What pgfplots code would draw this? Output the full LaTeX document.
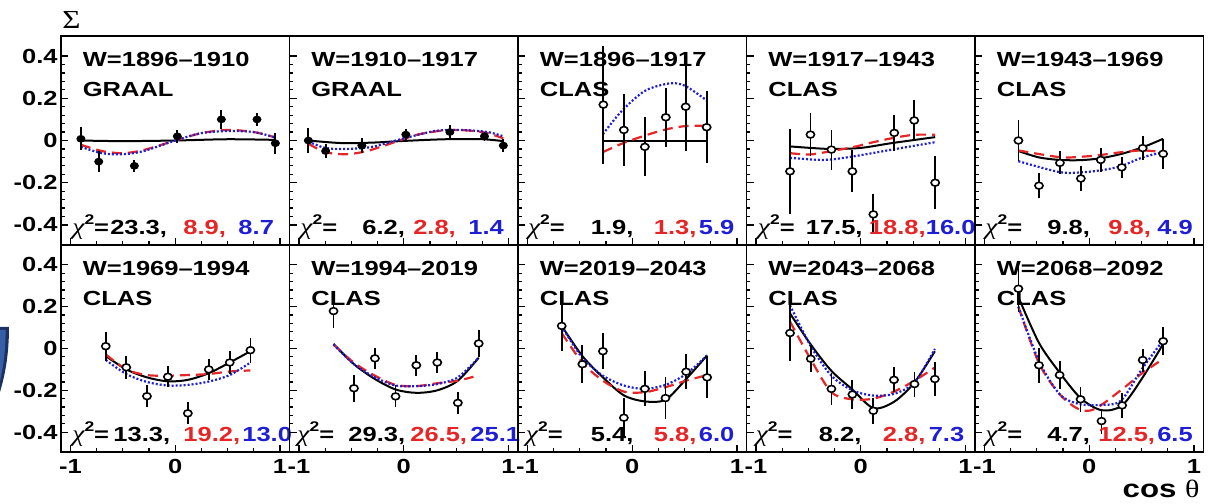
\documentclass[border=0pt]{standalone}
\usepackage{fontspec}
\usepackage{pgfplots}
\pgfplotsset{compat=1.18}
\newfontfamily\rf{Liberation Sans}[FakeStretch=1.25]
\newfontfamily\symf{Liberation Serif}[FakeStretch=1.2]
\definecolor{rred}{RGB}{230,38,38}
\definecolor{rblue}{RGB}{30,30,215}
\newcommand{\tf}{\fontsize{10.2}{12}\rf\bfseries}
\newcommand{\chisq}{{\fontsize{11.5}{12}\symf\itshape χ}\raisebox{0.5em}{\fontsize{7}{8}\rf\bfseries 2}{\tf =}}
\newcommand{\chiline}[7]{%
 \node[anchor=base west,inner sep=0] at (rel axis cs:#1,0.05) {\chisq};
 \node[anchor=base west,inner sep=0] at (rel axis cs:#2,0.05) {\tf #3};
 \node[anchor=base west,inner sep=0,text=rred] at (rel axis cs:#4,0.05) {\tf #5};
 \node[anchor=base west,inner sep=0,text=rblue] at (rel axis cs:#6,0.05) {\tf #7};}
\newcommand{\ttl}[2]{%
 \node[anchor=base west,inner sep=0] at (rel axis cs:0.094,0.855) {\tf #1};
 \node[anchor=base west,inner sep=0] at (rel axis cs:0.094,0.71) {\tf #2};}
\pgfplotsset{
 panel/.style={scale only axis, width=114.25pt, anchor=south west,
  xmin=-1.09, xmax=1.09, ymin=-0.495, ymax=0.495,
  axis line style={line width=0.9pt},
  every tick/.style={black, line width=0.6pt},
  tick align=inside, tick pos=left,
  xtick={-1,0,1}, ytick={-0.4,-0.2,0,0.2,0.4},
  minor x tick num=3, minor y tick num=4,
  major tick length=3.5pt, minor tick length=1.8pt,
  xticklabels={}, yticklabels={},
  clip=false,
  ticklabel style={font=\tf},
  yticklabel style={inner sep=1.5pt},
 },
 toprow/.style={height=104.5pt},
 botrow/.style={height=103.5pt, xticklabels={-1,0,1}},
 firstcol/.style={yticklabels={-0.4,-0.2,0,0.2,0.4}},
 bfit/.style={black, line width=1pt, smooth},
 rfit/.style={rred, line width=1.1pt, dash pattern=on 5pt off 3pt, smooth},
 ufit/.style={rblue, line width=1.1pt, dash pattern=on 1pt off 1pt, smooth},
 dfill/.style={black, only marks, mark=*, mark size=1.7pt, mark options={xscale=1.2, fill=black},
   error bars/.cd, y dir=both, y explicit, error mark=none, error bar style={line width=0.9pt}},
 dopen/.style={black, only marks, mark=*, mark size=1.7pt, mark options={xscale=1.2, fill=white, line width=0.8pt},
   error bars/.cd, y dir=both, y explicit, error mark=none, error bar style={line width=0.9pt}},
}
\begin{document}
\begin{tikzpicture}
% ---------- top row ----------
\begin{axis}[panel, toprow, firstcol, at={(30.5pt,129pt)}]
\addplot[bfit] coordinates {(-0.9,0.0) (-0.5,-0.003) (0,0.0) (0.5,0.006) (0.95,0.003)};
\addplot[rfit] coordinates {(-0.9,-0.02) (-0.7,-0.05) (-0.5,-0.06) (-0.3,-0.045) (0,0.0) (0.25,0.035) (0.5,0.05) (0.75,0.04) (0.95,0.015)};
\addplot[ufit] coordinates {(-0.9,-0.03) (-0.7,-0.06) (-0.5,-0.065) (-0.3,-0.05) (0,0.0) (0.25,0.035) (0.5,0.045) (0.75,0.04) (0.95,0.015)};
\addplot[dfill] coordinates {(-0.90,0.008) +- (0,0.055) (-0.73,-0.10) +- (0,0.05) (-0.39,-0.12) +- (0,0.03) (0.02,0.02) +- (0,0.03) (0.44,0.10) +- (0,0.045) (0.78,0.10) +- (0,0.03) (0.955,-0.013) +- (0,0.05)};
\ttl{W=1896–1910}{GRAAL}
\chiline{0.048}{0.214}{23.3,}{0.534}{8.9,}{0.775}{8.7}
\end{axis}
\begin{axis}[panel, toprow, at={(144.75pt,129pt)}]
\addplot[bfit] coordinates {(-0.91,0.0) (-0.6,-0.012) (-0.3,-0.01) (0,-0.002) (0.4,0.006) (0.75,0.006) (0.95,-0.003)};
\addplot[rfit] coordinates {(-0.91,-0.015) (-0.75,-0.055) (-0.55,-0.065) (-0.35,-0.05) (-0.1,-0.01) (0.15,0.03) (0.45,0.05) (0.75,0.04) (0.95,0.01)};
\addplot[ufit] coordinates {(-0.91,-0.005) (-0.75,-0.035) (-0.55,-0.04) (-0.3,-0.03) (0,0.01) (0.3,0.045) (0.55,0.05) (0.8,0.04) (0.95,0.02)};
\addplot[dfill] coordinates {(-0.91,0.0) +- (0,0.06) (-0.745,-0.05) +- (0,0.035) (-0.40,-0.024) +- (0,0.035) (0.02,0.028) +- (0,0.025) (0.44,0.04) +- (0,0.035) (0.77,0.02) +- (0,0.02) (0.95,-0.024) +- (0,0.03)};
\ttl{W=1910–1917}{GRAAL}
\chiline{0.046}{0.317}{6.2,}{0.540}{2.8,}{0.781}{1.4}
\end{axis}
\begin{axis}[panel, toprow, at={(259pt,129pt)}]
\addplot[black, line width=1pt] coordinates {(-0.28,0) (0.71,0)};
\addplot[rfit] coordinates {(-0.28,-0.055) (-0.1,-0.015) (0.1,0.02) (0.3,0.05) (0.5,0.068) (0.71,0.07)};
\addplot[ufit] coordinates {(-0.28,0.03) (-0.1,0.14) (0.12,0.235) (0.35,0.27) (0.5,0.26) (0.71,0.19)};
\addplot[dopen] coordinates {(-0.276,0.17) +- (0,0.28) (-0.08,0.05) +- (0,0.17) (0.12,-0.03) +- (0,0.14) (0.32,0.11) +- (0,0.14) (0.51,0.16) +- (0,0.21) (0.71,0.063) +- (0,0.17)};
\ttl{W=1896–1917}{CLAS}
\chiline{0.042}{0.317}{1.9,}{0.593}{1.3,}{0.790}{5.9}
\end{axis}
\begin{axis}[panel, toprow, at={(373.25pt,129pt)}]
\addplot[bfit] coordinates {(-0.675,-0.028) (-0.3,-0.04) (0,-0.035) (0.3,-0.012) (0.71,0.016)};
\addplot[rfit] coordinates {(-0.675,-0.06) (-0.48,-0.066) (-0.28,-0.05) (-0.08,-0.032) (0.12,-0.008) (0.32,0.013) (0.51,0.027) (0.71,0.027)};
\addplot[ufit] coordinates {(-0.675,-0.082) (-0.35,-0.092) (-0.08,-0.076) (0.3,-0.043) (0.71,-0.008)};
\addplot[dopen] coordinates {(-0.675,-0.146) +- (0,0.2) (-0.48,0.028) +- (0,0.1) (-0.28,-0.043) +- (0,0.095) (-0.08,-0.146) +- (0,0.1) (0.12,-0.35) +- (0,0.095) (0.32,0.036) +- (0,0.085) (0.51,0.095) +- (0,0.095) (0.71,-0.2) +- (0,0.125)};
\ttl{W=1917–1943}{CLAS}
\chiline{0.048}{0.258}{17.5,}{0.534}{18.8,}{0.783}{16.0}
\end{axis}
\begin{axis}[panel, toprow, at={(487.5pt,129pt)}]
\addplot[bfit] coordinates {(-0.676,-0.05) (-0.48,-0.08) (-0.28,-0.092) (-0.08,-0.093) (0.11,-0.084) (0.31,-0.063) (0.51,-0.032) (0.705,0.008)};
\addplot[rfit] coordinates {(-0.676,-0.047) (-0.28,-0.079) (-0.05,-0.076) (0.15,-0.066) (0.31,-0.055) (0.51,-0.047) (0.705,-0.055)};
\addplot[ufit] coordinates {(-0.676,-0.098) (-0.28,-0.15) (-0.05,-0.15) (0.15,-0.138) (0.31,-0.12) (0.51,-0.08) (0.705,-0.055)};
\addplot[dopen] coordinates {(-0.676,0.0) +- (0,0.095) (-0.48,-0.214) +- (0,0.06) (-0.28,-0.106) +- (0,0.055) (-0.08,-0.18) +- (0,0.06) (0.11,-0.092) +- (0,0.055) (0.31,-0.127) +- (0,0.05) (0.51,-0.036) +- (0,0.057) (0.705,-0.063) +- (0,0.07)};
\ttl{W=1943–1969}{CLAS}
\chiline{0.044}{0.315}{9.8,}{0.582}{9.8,}{0.796}{4.9}
\end{axis}
% ---------- bottom row ----------
\begin{axis}[panel, botrow, firstcol, at={(30.5pt,25.5pt)}]
\addplot[bfit] coordinates {(-0.663,-0.036) (-0.467,-0.1) (-0.27,-0.138) (-0.07,-0.157) (0.12,-0.15) (0.32,-0.118) (0.52,-0.067) (0.717,-0.013)};
\addplot[rfit] coordinates {(-0.663,-0.028) (-0.467,-0.1) (-0.27,-0.127) (-0.07,-0.13) (0.12,-0.127) (0.32,-0.122) (0.52,-0.11) (0.717,-0.105)};
\addplot[ufit] coordinates {(-0.663,-0.055) (-0.467,-0.122) (-0.27,-0.16) (-0.07,-0.177) (0.12,-0.174) (0.32,-0.158) (0.52,-0.127) (0.717,-0.067)};
\addplot[dopen] coordinates {(-0.663,0.011) +- (0,0.07) (-0.467,-0.09) +- (0,0.055) (-0.27,-0.228) +- (0,0.053) (-0.07,-0.135) +- (0,0.05) (0.12,-0.31) +- (0,0.053) (0.32,-0.10) +- (0,0.05) (0.52,-0.067) +- (0,0.053) (0.717,-0.008) +- (0,0.06)};
\ttl{W=1969–1994}{CLAS}
\chiline{0.048}{0.228}{13.3,}{0.534}{19.2,}{0.792}{13.0}
\end{axis}
\begin{axis}[panel, botrow, at={(144.75pt,25.5pt)}]
\addplot[bfit] coordinates {(-0.67,0.022) (-0.475,-0.075) (-0.275,-0.146) (-0.078,-0.196) (0.12,-0.212) (0.32,-0.2) (0.516,-0.154) (0.715,-0.044)};
\addplot[rfit] coordinates {(-0.67,0.019) (-0.475,-0.068) (-0.275,-0.13) (-0.078,-0.174) (0.12,-0.18) (0.32,-0.166) (0.516,-0.154) (0.665,-0.135)};
\addplot[ufit] coordinates {(-0.67,0.019) (-0.475,-0.075) (-0.275,-0.138) (-0.078,-0.177) (0.12,-0.18) (0.32,-0.17) (0.516,-0.138) (0.715,-0.044)};
\addplot[dopen] coordinates {(-0.67,0.179) +- (0,0.08) (-0.475,-0.19) +- (0,0.065) (-0.275,-0.047) +- (0,0.05) (-0.078,-0.229) +- (0,0.053) (0.12,-0.08) +- (0,0.05) (0.32,-0.067) +- (0,0.05) (0.516,-0.26) +- (0,0.053) (0.715,0.024) +- (0,0.065)};
\ttl{W=1994–2019}{CLAS}
\chiline{0.033}{0.256}{29.3,}{0.527}{26.5,}{0.790}{25.1}
\end{axis}
\begin{axis}[panel, botrow, at={(259pt,25.5pt)}]
\addplot[bfit] coordinates {(-0.673,0.108) (-0.476,-0.036) (-0.28,-0.138) (-0.08,-0.224) (0.12,-0.253) (0.317,-0.245) (0.514,-0.146) (0.714,-0.033)};
\addplot[rfit] coordinates {(-0.673,0.074) (-0.476,-0.067) (-0.28,-0.154) (-0.08,-0.206) (0.12,-0.209) (0.317,-0.185) (0.514,-0.154) (0.714,-0.127)};
\addplot[ufit] coordinates {(-0.673,0.105) (-0.476,-0.044) (-0.28,-0.13) (-0.08,-0.177) (0.12,-0.193) (0.317,-0.174) (0.514,-0.122) (0.714,-0.033)};
\addplot[dopen] coordinates {(-0.673,0.108) +- (0,0.12) (-0.476,-0.075) +- (0,0.09) (-0.28,-0.013) +- (0,0.085) (-0.08,-0.331) +- (0,0.095) (0.12,-0.193) +- (0,0.084) (0.317,-0.237) +- (0,0.1) (0.514,-0.111) +- (0,0.083) (0.714,-0.138) +- (0,0.1)};
\ttl{W=2019–2043}{CLAS}
\chiline{0.033}{0.317}{5.4,}{0.593}{5.8,}{0.790}{6.0}
\end{axis}
\begin{axis}[panel, botrow, at={(373.25pt,25.5pt)}]
\addplot[bfit] coordinates {(-0.675,0.168) (-0.477,0.019) (-0.28,-0.107) (-0.08,-0.196) (0.12,-0.285) (0.317,-0.255) (0.513,-0.162) (0.707,-0.013)};
\addplot[rfit] coordinates {(-0.675,0.129) (-0.477,-0.052) (-0.28,-0.209) (-0.08,-0.243) (0.12,-0.24) (0.317,-0.206) (0.513,-0.154) (0.707,-0.091)};
\addplot[ufit] coordinates {(-0.675,0.207) (-0.477,0.011) (-0.28,-0.13) (-0.08,-0.2) (0.12,-0.225) (0.317,-0.217) (0.513,-0.162) (0.707,-0.002)};
\addplot[dopen] coordinates {(-0.675,0.074) +- (0,0.135) (-0.477,-0.049) +- (0,0.065) (-0.28,-0.193) +- (0,0.075) (-0.08,-0.22) +- (0,0.068) (0.12,-0.298) +- (0,0.063) (0.317,-0.15) +- (0,0.06) (0.513,-0.17) +- (0,0.06) (0.707,-0.146) +- (0,0.08)};
\ttl{W=2043–2068}{CLAS}
\chiline{0.039}{0.315}{8.2,}{0.595}{2.8,}{0.796}{7.3}
\end{axis}
\begin{axis}[panel, botrow, at={(487.5pt,25.5pt)}]
\addplot[bfit] coordinates {(-0.676,0.246) (-0.48,0.027) (-0.283,-0.115) (-0.083,-0.237) (0.117,-0.295) (0.314,-0.272) (0.51,-0.138) (0.705,0.022)};
\addplot[rfit] coordinates {(-0.676,0.2) (-0.48,-0.07) (-0.28,-0.22) (-0.1,-0.29) (0.05,-0.29) (0.3,-0.2) (0.5,-0.12) (0.705,-0.05)};
\addplot[ufit] coordinates {(-0.676,0.2) (-0.48,-0.06) (-0.28,-0.22) (-0.1,-0.265) (0.1,-0.27) (0.3,-0.25) (0.5,-0.1) (0.705,0.04)};
\addplot[dopen] coordinates {(-0.676,0.286) +- (0,0.11) (-0.48,-0.08) +- (0,0.083) (-0.283,-0.127) +- (0,0.067) (-0.083,-0.243) +- (0,0.06) (0.117,-0.347) +- (0,0.06) (0.314,-0.272) +- (0,0.06) (0.51,-0.055) +- (0,0.055) (0.705,0.035) +- (0,0.067)};
\ttl{W=2068–2092}{CLAS}
\chiline{0.044}{0.315}{4.7,}{0.538}{12.5,}{0.796}{6.5}
\end{axis}
% ---------- outer labels ----------
\node[inner sep=0] at (35.75pt,241.5pt) {\fontsize{13}{14}\symf Σ};
\node[anchor=base east,inner sep=0] at (600pt,3pt) {\fontsize{12.5}{14}\rf\bfseries cos {\symf\mdseries θ}};
\fill[fill={rgb,255:red,28;green,48;blue,100}] (0pt,88pt) -- (4.5pt,88pt) .. controls (4.5pt,74pt) and (2.5pt,64pt) .. (0pt,55.5pt) -- cycle;
\fill[fill={rgb,255:red,55;green,95;blue,165}] (0pt,86.5pt) -- (2.8pt,86.5pt) .. controls (2.8pt,75pt) and (1.4pt,67pt) .. (0pt,61pt) -- cycle;
\pgfresetboundingbox
\path (0pt,0pt) rectangle (612.5pt,251.5pt);
\end{tikzpicture}
\end{document}
